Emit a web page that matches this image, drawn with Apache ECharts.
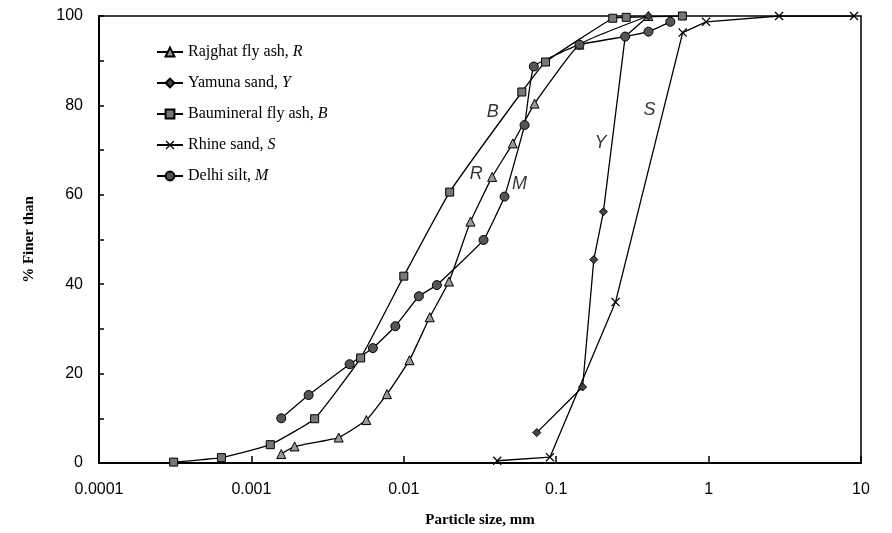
<!DOCTYPE html>
<html>
<head>
<meta charset="utf-8">
<script src="https://cdn.jsdelivr.net/npm/echarts@6/dist/echarts.min.js"></script>
<style>
html,body{margin:0;padding:0;background:#fff;}
#chart{width:892px;height:533px;}
</style>
</head>
<body>
<div id="chart"></div>
<script>
// ---- Data (particle size in mm, % finer than) ----
var seriesNames = ['Rajghat fly ash', 'Yamuna sand', 'Baumineral fly ash', 'Rhine sand', 'Delhi silt'];
var seriesLetters = ['R', 'Y', 'B', 'S', 'M'];

var rajghatX = [0.00157, 0.00192, 0.00374, 0.00568, 0.00775, 0.0109, 0.0148, 0.0198, 0.0274, 0.0380, 0.0519, 0.0721, 0.142, 0.403];
var rajghatY = [2.0, 3.7, 5.7, 9.6, 15.4, 23.0, 32.6, 40.6, 54.0, 64.0, 71.5, 80.4, 93.6, 100];

var yamunaX = [0.0746, 0.149, 0.1765, 0.204, 0.2835, 0.403];
var yamunaY = [6.8, 17.0, 45.5, 56.2, 95.4, 100];

var baumineralX = [0.000309, 0.000636, 0.00133, 0.0026, 0.00521, 0.0100, 0.0200, 0.0595, 0.0851, 0.235, 0.288, 0.673];
var baumineralY = [0.2, 1.2, 4.1, 9.9, 23.5, 41.8, 60.6, 83.0, 89.7, 99.5, 99.7, 100];

var rhineX = [0.041, 0.091, 0.245, 0.676, 0.963, 2.9, 9.0];
var rhineY = [0.5, 1.3, 36.0, 96.3, 98.7, 100, 100];

var delhiX = [0.00157, 0.002375, 0.00441, 0.00627, 0.0088, 0.01256, 0.01648, 0.03336, 0.0458, 0.0620, 0.0713, 0.1422, 0.2835, 0.403, 0.561];
var delhiY = [10.0, 15.2, 22.1, 25.7, 30.6, 37.3, 39.8, 49.9, 59.6, 75.6, 88.7, 93.6, 95.4, 96.5, 98.7];

// Curve annotation letters placed at data coordinates
var annotLetters = ['B', 'R', 'M', 'Y', 'S'];
var annotX = [0.0383, 0.0299, 0.0574, 0.195, 0.409];
var annotY = [78.5, 64.6, 62.5, 71.5, 78.9];

var xTickLabels = {'0.0001': '0.0001', '0.001': '0.001', '0.01': '0.01', '0.1': '0.1', '1': '1', '10': '10'};

function pairs(xs, ys) { return xs.map(function (x, i) { return [x, ys[i]]; }); }

var crossPath = 'path://M0,1L1,0L5,4L9,0L10,1L6,5L10,9L9,10L5,6L1,10L0,9L4,5Z';

var markerStyles = [
  {symbol: 'triangle', symbolSize: 9, smooth: 0.12, itemStyle: {color: '#9a9a9a', borderColor: '#000', borderWidth: 1}},
  {symbol: 'diamond', symbolSize: 8, smooth: false, itemStyle: {color: '#444', borderColor: '#000', borderWidth: 1}},
  {symbol: 'rect', symbolSize: 8, smooth: 0.12, itemStyle: {color: '#777', borderColor: '#000', borderWidth: 1}},
  {symbol: crossPath, symbolSize: 9, smooth: false, itemStyle: {color: '#000', borderWidth: 0}},
  {symbol: 'circle', symbolSize: 9, smooth: 0.1, itemStyle: {color: '#555', borderColor: '#000', borderWidth: 1}}
];
var xsAll = [rajghatX, yamunaX, baumineralX, rhineX, delhiX];
var ysAll = [rajghatY, yamunaY, baumineralY, rhineY, delhiY];

var series = seriesNames.map(function (n, i) {
  return {
    name: n,
    type: 'line',
    data: pairs(xsAll[i], ysAll[i]),
    symbol: markerStyles[i].symbol,
    symbolSize: markerStyles[i].symbolSize,
    itemStyle: markerStyles[i].itemStyle,
    lineStyle: {color: '#000', width: 1.3},
    smooth: markerStyles[i].smooth,
    showAllSymbol: true,
    animation: false
  };
});

series.push({
  type: 'scatter',
  silent: true,
  symbolSize: 0,
  data: annotLetters.map(function (l, i) { return {value: [annotX[i], annotY[i]], name: l}; }),
  label: {
    show: true,
    position: 'inside',
    formatter: function (p) { return p.name; },
    fontFamily: 'Liberation Sans, Arial, sans-serif',
    fontStyle: 'italic',
    fontSize: 18,
    color: '#000'
  },
  animation: false
});

var chart = echarts.init(document.getElementById('chart'), null, {renderer: 'canvas'});
chart.setOption({
  backgroundColor: '#fff',
  animation: false,
  grid: {left: 99, right: 31, top: 16, bottom: 70, show: true, borderColor: '#000', borderWidth: 1.5, backgroundColor: 'transparent'},
  legend: {
    data: seriesNames,
    orient: 'vertical',
    left: 151,
    top: 39,
    itemWidth: 26,
    itemHeight: 11,
    itemGap: 15,
    textStyle: {
      fontFamily: 'Liberation Serif, Times New Roman, serif',
      fontSize: 16,
      color: '#000',
      rich: {
        i: {fontFamily: 'Liberation Serif, Times New Roman, serif', fontStyle: 'italic', fontSize: 16, color: '#000'}
      }
    },
    formatter: function (name) {
      var idx = seriesNames.indexOf(name);
      return name + ', {i|' + seriesLetters[idx] + '}';
    }
  },
  xAxis: {
    type: 'log',
    logBase: 10,
    min: 0.0001,
    max: 10,
    name: 'Particle size, mm',
    nameLocation: 'middle',
    nameGap: 50,
    nameTextStyle: {fontFamily: 'Liberation Serif, Times New Roman, serif', fontWeight: 'bold', fontSize: 15, color: '#000'},
    axisLine: {show: true, lineStyle: {color: '#000', width: 2}},
    axisTick: {show: true, inside: true, length: 7, lineStyle: {color: '#000', width: 1.5}},
    minorTick: {show: false},
    splitLine: {show: false},
    axisLabel: {
      margin: 19,
      fontFamily: 'Liberation Sans, Arial, sans-serif',
      fontSize: 16,
      color: '#000',
      formatter: function (v) {
        var k = String(parseFloat(v.toPrecision(6)));
        return xTickLabels[k] !== undefined ? xTickLabels[k] : k;
      }
    }
  },
  yAxis: {
    type: 'value',
    min: 0,
    max: 100,
    interval: 10,
    name: '% Finer than',
    nameLocation: 'middle',
    nameGap: 62,
    nameTextStyle: {fontFamily: 'Liberation Serif, Times New Roman, serif', fontWeight: 'bold', fontSize: 15, color: '#000'},
    axisLine: {show: true, lineStyle: {color: '#000', width: 2}},
    axisTick: {show: true, inside: true, length: 5, lineStyle: {color: '#000', width: 1.5}},
    splitLine: {show: false},
    axisLabel: {
      margin: 16,
      fontFamily: 'Liberation Sans, Arial, sans-serif',
      fontSize: 16,
      color: '#000',
      formatter: function (v) { return v % 20 === 0 ? String(v) : ''; }
    }
  },
  series: series
});
</script>
</body>
</html>
